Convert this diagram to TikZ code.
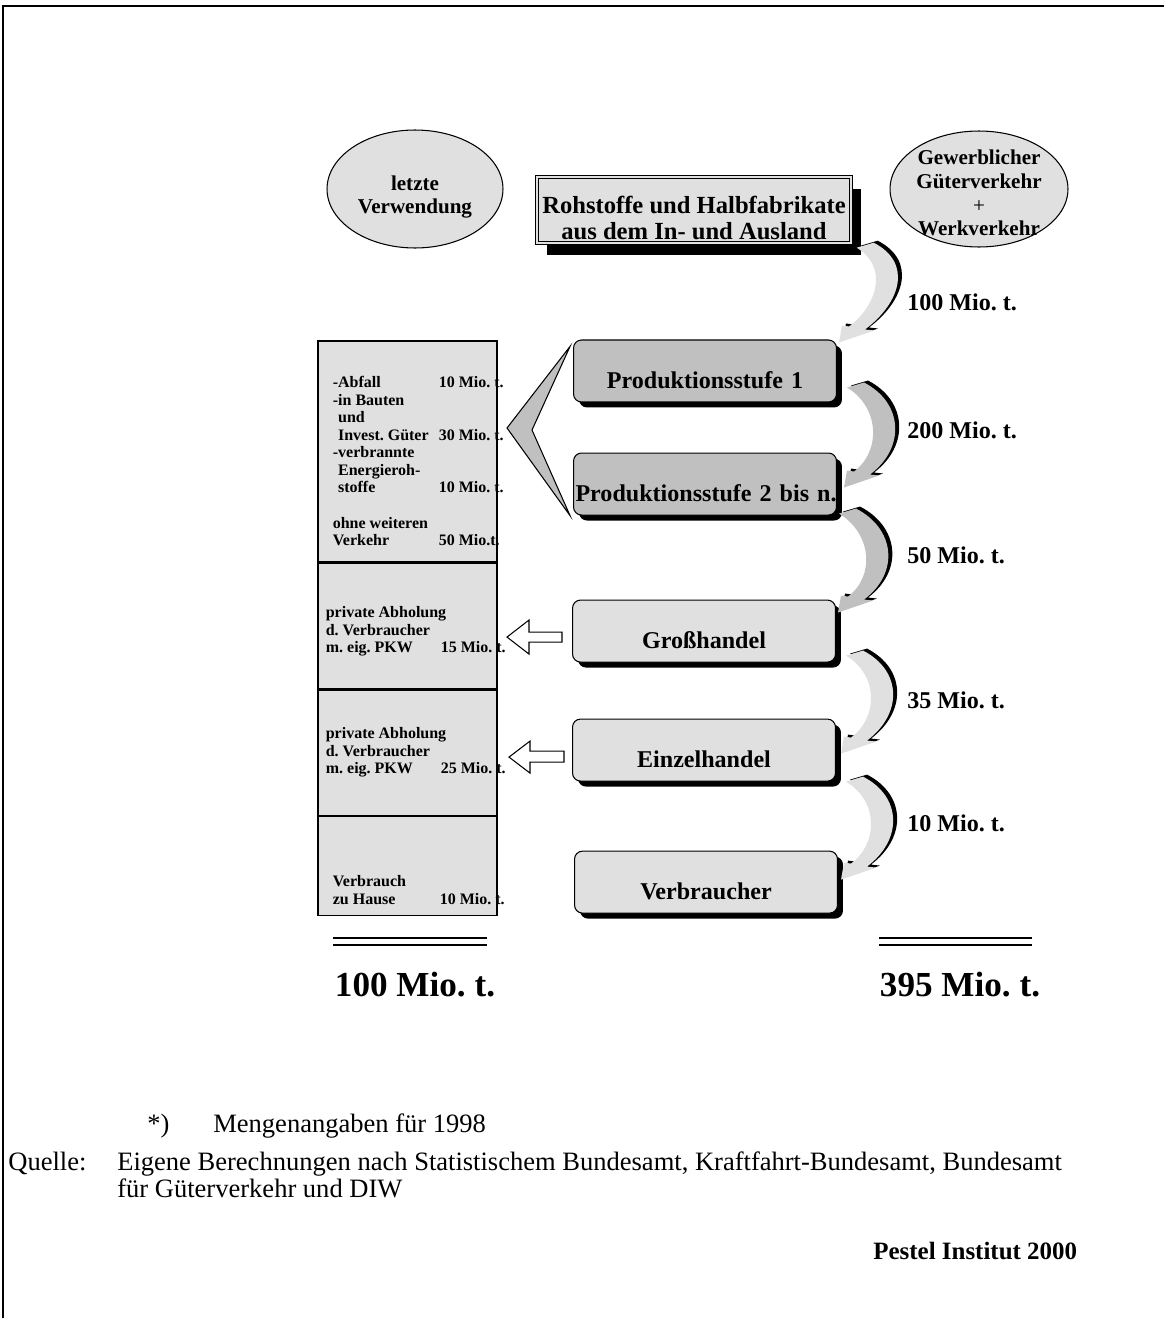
\documentclass[tikz,border=0pt]{standalone}
\usepackage{fontspec}
\setmainfont{Liberation Serif}
\usetikzlibrary{shapes,positioning,calc,shadows}
\definecolor{hellgrau}{RGB}{224,224,224}
\definecolor{mittelgrau}{RGB}{192,192,192}
\frenchspacing

% gebogener Pfeil (Start, Spitze, Farbe) mit schwarzem Schatten
\newcommand{\bogenform}[3]{%
  \fill[#3] (#1) -- ($(#1)+(17,-5)$)
    .. controls ($(#1)+(56,15)$) and ($(#2)+(62,-40)$) .. ($(#2)+(26,-13)$)
    -- ($(#2)+(35,-12)$) -- (#2) -- ($(#2)+(3,-17)$) -- ($(#2)+(10,-16)$)
    .. controls ($(#2)+(37,-36)$) and ($(#1)+(33,20)$) .. (#1) -- cycle;}
\newcommand{\bogenpfeil}[3]{%
  \coordinate (bs) at #1;
  \coordinate (be) at #2;
  \coordinate (bsx) at ($(bs)+(4,-2)$);
  \coordinate (bex) at ($(be)+(4,-2)$);
  \bogenform{bsx}{bex}{black}
  \bogenform{bs}{be}{#3}}

\begin{document}
\begin{tikzpicture}[
    x=0.02cm, y=-0.02cm,
    stufe/.style={rectangle, draw, line width=0.6pt, rounded corners=0.16cm,
      minimum width=5.26cm, minimum height=1.24cm, text width=5.18cm, inner xsep=0.04cm,
      align=center, text height=20pt, text depth=0pt,
      font=\fontsize{13.7}{16}\selectfont\bfseries,
      general shadow={fill=black, shadow xshift=0.11cm, shadow yshift=-0.11cm}},
    kopfbox/.style={rectangle, draw, line width=0.8pt, double=hellgrau, double distance=1.2pt,
      fill=hellgrau, minimum width=6.28cm, minimum height=1.32cm,
      general shadow={fill=black, shadow xshift=0.2cm, shadow yshift=-0.24cm}},
    kopftext/.style={align=center, font=\fontsize{14}{14.3}\selectfont\bfseries},
    oval/.style={ellipse, draw, line width=0.6pt, fill=hellgrau, inner sep=0pt},
    ovaltext/.style={align=center, font=\fontsize{12}{13.5}\selectfont\bfseries},
    zelle/.style={rectangle, draw, line width=0.6pt, fill=hellgrau, minimum width=3.58cm, inner sep=0pt},
    zelltext/.style={anchor=base west, inner sep=0pt, font=\fontsize{9.1}{10}\selectfont\bfseries},
    menge/.style={anchor=west, inner sep=0pt, font=\fontsize{13.7}{16}\selectfont\bfseries},
    summe/.style={font=\fontsize{20}{22}\selectfont\bfseries},
    doppel/.style={double, line width=0.85pt, double distance=0.11cm},
    blockpfeil/.style={draw, line width=0.6pt, fill=white, line join=miter},
    keil/.style={draw, line width=0.6pt, fill=mittelgrau},
    fuss/.style={anchor=base west, inner sep=0pt, font=\fontsize{15.1}{15.6}\selectfont},
    rahmen/.style={line width=1.3pt}
]
\useasboundingbox (0,0) rectangle (1164,1318);

% Rahmen
\draw[rahmen] (3,1318) -- (3,6) -- (1164,6);

% Ovale und Kopf
\node[oval, minimum width=3.52cm, minimum height=2.36cm] (lv) at (415,189) {};
\node[ovaltext] (lvtext) at ($(lv.center)+(0,8)$) {letzte\\Verwendung};
\node[oval, minimum width=3.56cm, minimum height=2.32cm] (gv) at (979,189) {};
\node[ovaltext] (gvtext) at ($(gv.center)+(0,4)$) {Gewerblicher\\Güterverkehr\\{\mdseries +}\\Werkverkehr};
\node[kopfbox] (kopf) at (694,210) {};
\node[kopftext] (kopfzeilen) at ($(kopf.center)+(0,8)$) {Rohstoffe und Halbfabrikate\\aus dem In- und Ausland};

% Stufen
\node[stufe, fill=mittelgrau] (p1) at (705,371) {Produktionsstufe 1};
\node[stufe, fill=mittelgrau, below=1cm of p1] (p2) {\mbox{Produktionsstufe 2 bis n..}};
\node[stufe, fill=hellgrau, below=1.68cm of p2, xshift=-0.02cm] (gh) {Großhandel};
\node[stufe, fill=hellgrau, below=1.12cm of gh] (ek) {Einzelhandel};
\node[stufe, fill=hellgrau, below=1.38cm of ek, xshift=0.04cm] (vb) {Verbraucher};

% Saeule letzte Verwendung
\node[zelle, minimum height=4.42cm] (z1) at (407.5,451.5) {};
\node[zelle, minimum height=2.52cm, below=0cm of z1] (z2) {};
\node[zelle, minimum height=2.5cm, below=0cm of z2] (z3) {};
\node[zelle, minimum height=1.98cm, below=0cm of z3] (z4) {};

\node[zelltext] (tz1) at ($(z1.north west)+(15,47)$) {\begin{tabular}[t]{@{}p{2.12cm}@{}l@{}}
-Abfall & 10 Mio. t.\\
-in Bauten & \\
\hspace*{3pt}und & \\
\hspace*{3pt}Invest. Güter & 30 Mio. t.\\
-verbrannte & \\
\hspace*{3pt}Energieroh- & \\
\hspace*{3pt}stoffe & 10 Mio. t.\\
 & \\
ohne weiteren & \\
Verkehr & 50 Mio.t.
\end{tabular}};
\node[zelltext] (tz2) at ($(z2.north west)+(8,55)$) {\begin{tabular}[t]{@{}p{2.3cm}@{}l@{}}
\multicolumn{2}{@{}l@{}}{private Abholung}\\
d. Verbraucher & \\
m. eig. PKW & 15 Mio. t.
\end{tabular}};
\node[zelltext] (tz3) at ($(z3.north west)+(8,49)$) {\begin{tabular}[t]{@{}p{2.3cm}@{}l@{}}
\multicolumn{2}{@{}l@{}}{private Abholung}\\
d. Verbraucher & \\
m. eig. PKW & 25 Mio. t.
\end{tabular}};
\node[zelltext] (tz4) at ($(z4.north west)+(15,71)$) {\begin{tabular}[t]{@{}p{2.14cm}@{}l@{}}
Verbrauch & \\
zu Hause & 10 Mio. t.
\end{tabular}};

% Keil und Blockpfeile
\coordinate (keilspitze) at (507,428);
\coordinate (keilkerbe) at (532,430);
\draw[keil] ($(p1.north west)+(-3,7)$) -- (keilspitze) -- ($(p2.south west)+(-3,0)$) -- (keilkerbe) -- cycle;
\draw[blockpfeil] ($(gh.west)+(-10,1)$) -- ++(-33,0) -- ++(0,-12) -- ++(-22,17) -- ++(22,17) -- ++(0,-12) -- ++(33,0) -- cycle;
\draw[blockpfeil] ($(ek.west)+(-8,1)$) -- ++(-34,0) -- ++(0,-10) -- ++(-21,16) -- ++(21,16) -- ++(0,-11) -- ++(34,0) -- cycle;

% Bogenpfeile
\bogenpfeil{($(kopf.south east)+(5,4)$)}{($(p1.north east)+(2,3)$)}{hellgrau}
\bogenpfeil{($(p1.south east)+(10,-15)$)}{($(p2.north east)+(7,35)$)}{mittelgrau}
\bogenpfeil{($(p2.south east)+(2,-2)$)}{($(gh.north east)+(2,13)$)}{mittelgrau}
\bogenpfeil{($(gh.south east)+(10,-7)$)}{($(ek.north east)+(5,35)$)}{hellgrau}
\bogenpfeil{($(ek.south east)+(10,0)$)}{($(vb.north east)+(3,29)$)}{hellgrau}

\node[menge] (m1) at (907,302) {100 Mio. t.};
\node[menge] (m2) at (907,430) {200 Mio. t.};
\node[menge] (m3) at (907,555) {50 Mio. t.};
\node[menge] (m4) at (907,700) {35 Mio. t.};
\node[menge] (m5) at (907,823) {10 Mio. t.};

% Summen
\draw[doppel] (333,941.5) -- (487,941.5);
\draw[doppel] (879,941.5) -- (1032,941.5);
\node[summe] (summe1) at (415,985) {100 Mio. t.};
\node[summe] (summe2) at (960,985) {395 Mio. t.};

% Fussnoten
\node[fuss] (stern) at (147,1132) {*)};
\node[fuss] (mengen) at (213,1132) {Mengenangaben für 1998};
\node[fuss] (quelle) at (8,1170) {Quelle:};
\node[fuss] (quelle1) at (117,1170) {Eigene Berechnungen nach Statistischem Bundesamt, Kraftfahrt-Bundesamt, Bundesamt};
\node[fuss] (quelle2) at (117,1197) {für Güterverkehr und DIW};
\node[fuss, font=\fontsize{14.2}{15}\selectfont\bfseries] (pestel) at (873,1259) {Pestel Institut 2000};

\end{tikzpicture}
\end{document}
